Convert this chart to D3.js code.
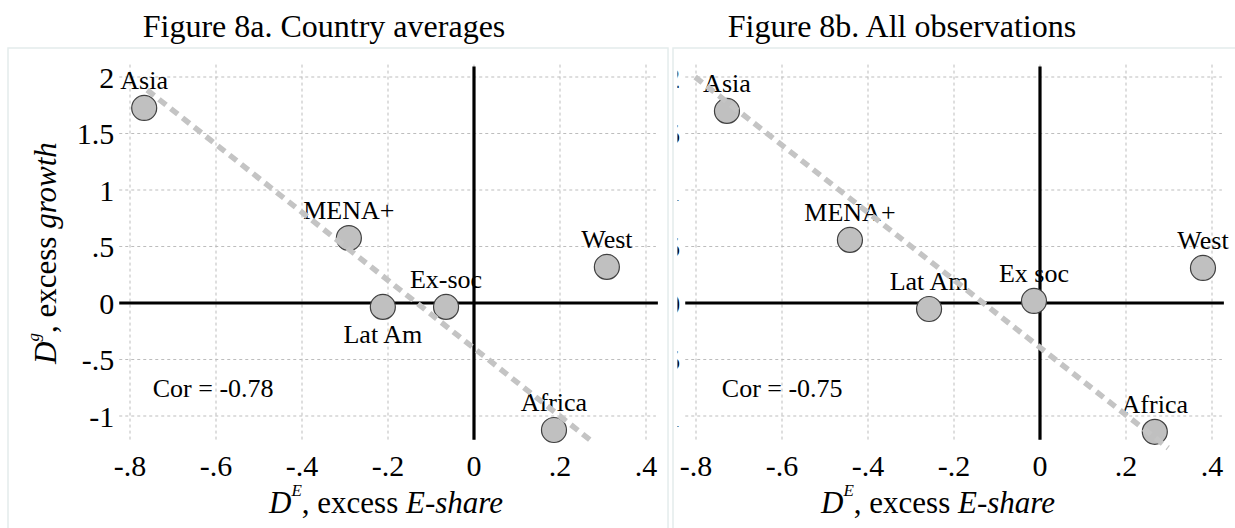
<!DOCTYPE html>
<html>
<head>
<meta charset="utf-8">
<script src="https://cdn.jsdelivr.net/npm/d3@7"></script>
<style>
  body { margin: 0; background: #fff; }
</style>
</head>
<body>
<div id="chart"></div>
<script>
// ticks
let xTicks = [-0.8, -0.6, -0.4, -0.2, 0, 0.2, 0.4];
let xTickLabels = ["-.8", "-.6", "-.4", "-.2", "0", ".2", ".4"];
let yTicks = [2, 1.5, 1, 0.5, 0, -0.5, -1];
let yTickLabels = ["2", "1.5", "1", ".5", "0", "-.5", "-1"];

// Figure 8a, country averages
let avgNames = ["Asia", "MENA+", "Lat Am", "Ex-soc", "West", "Africa"];
let avgX = [-0.767, -0.291, -0.212, -0.065, 0.309, 0.186];
let avgY = [1.726, 0.575, -0.035, -0.035, 0.319, -1.124];
let avgFitX = [-0.76, 0.27];
let avgFitY = [1.885, -1.212];
let avgCor = -0.78;

// Figure 8b, all observations
let obsNames = ["Asia", "MENA+", "Lat Am", "Ex soc", "West", "Africa"];
let obsX = [-0.728, -0.442, -0.258, -0.014, 0.379, 0.267];
let obsY = [1.70, 0.558, -0.053, 0.018, 0.31, -1.14];
let obsFitX = [-0.802, 0.298];
let obsFitY = [2.0, -1.283];
let obsCor = -0.75;

let serif = "Liberation Serif";
let W = 1235, H = 528;
let svg = d3.select("#chart").append("svg")
    .attr("width", W)
    .attr("height", H)
    .attr("font-family", serif);

function drawPanel(p) {
    let g = svg.append("g");

    // light panel frame
    g.append("rect")
        .attr("x", p.frame[0]).attr("y", 48)
        .attr("width", p.frame[1] - p.frame[0]).attr("height", H)
        .attr("fill", "none")
        .attr("stroke", "#e4ecec")
        .attr("stroke-width", 1.5);

    let x = d3.scaleLinear().domain([-0.8, 0.4]).range([p.x0, p.x0 + 516]);
    let y = d3.scaleLinear().domain([2, -1]).range([77, 416]);
    let left = x(-0.825), right = x(0.423);
    let top = y(2.11), bottom = y(-1.21);

    function txt(sel) {
        return sel.attr("font-family", serif).attr("fill", "#000");
    }

    txt(g.append("text"))
        .attr("x", p.titleX).attr("y", 37)
        .attr("text-anchor", "middle")
        .attr("font-size", 32)
        .text(p.title);

    // dashed grid
    g.selectAll(".vgrid").data(xTicks).enter().append("line")
        .attr("x1", d => x(d)).attr("x2", d => x(d))
        .attr("y1", top).attr("y2", bottom)
        .attr("stroke", "#bdbdbd").attr("stroke-dasharray", "3,3");
    g.selectAll(".hgrid").data(yTicks).enter().append("line")
        .attr("x1", left).attr("x2", right)
        .attr("y1", d => y(d)).attr("y2", d => y(d))
        .attr("stroke", "#bdbdbd").attr("stroke-dasharray", "3,3");

    // tick labels
    txt(g.selectAll(".xt").data(xTicks).enter().append("text"))
        .attr("x", d => x(d)).attr("y", 476)
        .attr("text-anchor", "middle")
        .attr("font-size", 30)
        .text((d, i) => xTickLabels[i]);

    let yl = g.append("g");
    if (p.clipY) {
        svg.append("clipPath").attr("id", "clipY")
            .append("rect").attr("x", p.clipY).attr("y", 0).attr("width", 40).attr("height", H);
        yl.attr("clip-path", "url(#clipY)");
    }
    txt(yl.selectAll(".yt").data(yTicks).enter().append("text"))
        .attr("x", left - 5).attr("y", d => y(d))
        .attr("dy", "0.35em")
        .attr("text-anchor", "end")
        .attr("font-size", 30)
        .text((d, i) => yTickLabels[i]);

    // point labels
    txt(g.selectAll(".lab").data(p.names).enter().append("text"))
        .attr("x", (d, i) => x(p.xs[i]))
        .attr("y", (d, i) => y(p.ys[i]) + (p.below.includes(d) ? 36 : -19))
        .attr("text-anchor", "middle")
        .attr("font-size", 26)
        .text(d => d);

    txt(g.append("text"))
        .attr("x", x(p.corX)).attr("y", y(-0.83))
        .attr("font-size", 26)
        .text("Cor = " + p.cor.toFixed(2));

    // zero axes
    g.append("line")
        .attr("x1", left).attr("x2", right + 2)
        .attr("y1", y(0)).attr("y2", y(0))
        .attr("stroke", "#000").attr("stroke-width", 3.2);
    g.append("line")
        .attr("x1", x(0)).attr("x2", x(0))
        .attr("y1", top + 2).attr("y2", bottom)
        .attr("stroke", "#000").attr("stroke-width", 3.2);

    // points
    g.selectAll(".pt").data(p.xs).enter().append("circle")
        .attr("cx", d => x(d))
        .attr("cy", (d, i) => y(p.ys[i]))
        .attr("r", 12.5)
        .attr("fill", "#c0c0c0")
        .attr("stroke", "#404040")
        .attr("stroke-width", 1.2);

    // fitted line
    g.append("path")
        .datum(d3.zip(p.fitX, p.fitY))
        .attr("d", d3.line().x(d => x(d[0])).y(d => y(d[1])))
        .attr("fill", "none")
        .attr("stroke", "#c4c4c4")
        .attr("stroke-width", 5.5)
        .attr("stroke-dasharray", "9,6");

    // x axis title
    let xt = txt(g.append("text"))
        .attr("x", p.xTitleX).attr("y", 513)
        .attr("text-anchor", "middle")
        .attr("font-size", 31);
    xt.append("tspan").attr("font-style", "italic").text("D");
    xt.append("tspan").attr("font-style", "italic").attr("font-size", 17)
        .attr("dy", -17).text("E");
    xt.append("tspan").attr("dy", 17).text(", excess ");
    xt.append("tspan").attr("font-style", "italic").text("E-share");

    if (p.yTitle) {
        let yt = txt(g.append("text"))
            .attr("transform", "translate(56,253) rotate(-90)")
            .attr("text-anchor", "middle")
            .attr("font-size", 31);
        yt.append("tspan").attr("font-style", "italic").text("D");
        yt.append("tspan").attr("font-style", "italic").attr("font-size", 17)
            .attr("dy", -17).text("g");
        yt.append("tspan").attr("dy", 17).text(", excess ");
        yt.append("tspan").attr("font-style", "italic").text("growth");
    }
}

drawPanel({
    title: "Figure 8a. Country averages", titleX: 324, frame: [8, 668],
    x0: 130, names: avgNames, xs: avgX, ys: avgY, below: ["Lat Am"],
    fitX: avgFitX, fitY: avgFitY, cor: avgCor, corX: -0.747,
    xTitleX: 386, yTitle: true
});
drawPanel({
    title: "Figure 8b. All observations", titleX: 902, frame: [673, 1240],
    x0: 696, names: obsNames, xs: obsX, ys: obsY, below: [],
    fitX: obsFitX, fitY: obsFitY, cor: obsCor, corX: -0.74,
    xTitleX: 938, yTitle: false, clipY: 677.5
});
</script>
</body>
</html>
